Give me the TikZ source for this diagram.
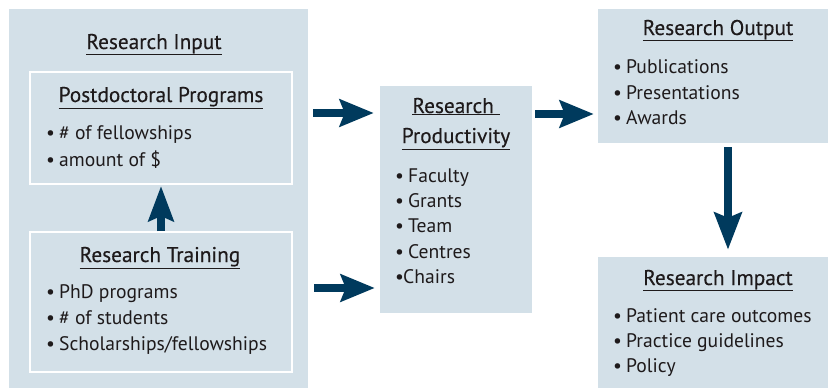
\documentclass[tikz,border=0pt]{standalone}
\usepackage{fontspec}
\setmainfont{PT Sans}
\newfontfamily\ttlfont[FakeBold=0.3]{PT Sans}
\usetikzlibrary{arrows.meta}
\definecolor{boxfill}{HTML}{D3E0E8}
\definecolor{navy}{HTML}{003A5D}
\definecolor{ink}{HTML}{1E1A1B}
\newcommand{\bul}[1]{\makebox[13pt][l]{\textbullet}#1}
\newcommand{\uln}[1]{\underline{#1}}
\tikzset{
  panel/.style={fill=boxfill, draw=none, inner sep=0pt},
  innerbox/.style={fill=boxfill, draw=white, line width=2pt, inner sep=0pt},
  ttl/.style={anchor=base, inner sep=0pt, text=ink, font=\ttlfont\fontsize{21.3}{24}\selectfont},
  itm/.style={anchor=base west, inner sep=0pt, text=ink, font=\fontsize{19.6}{22}\selectfont},
  bigarrow/.style={draw=navy, line width=8pt, -{Stealth[length=34pt,width=27pt,inset=5pt]}},
}
\begin{document}
\begin{tikzpicture}[x=1pt,y=-1pt]
\useasboundingbox (0,0) rectangle (828,388);
% boxes
\node[panel, minimum width=299pt, minimum height=380pt] (inp) at (158.5,199) {};
\node[innerbox, minimum width=262pt, minimum height=112pt] (post) at (161,128) {};
\node[innerbox, minimum width=262pt, minimum height=140pt] (train) at (161,302) {};
\node[panel, minimum width=152pt, minimum height=227pt] (prod) at (456,199.5) {};
\node[panel, minimum width=230pt, minimum height=134pt] (outp) at (713,76) {};
\node[panel, minimum width=230pt, minimum height=131pt] (imp) at (713,322.5) {};
% texts: input
\node[ttl] (t-in) at (154,49) {\uln{Research Input}};
\node[ttl] (t-post) at (161,102) {\uln{Postdoctoral Programs}};
\node[itm] (p1) at (46,139) {\bul{\# of fellowships}};
\node[itm] (p2) at (46,166) {\bul{amount of \$}};
\node[ttl] (t-train) at (160,262) {\uln{Research Training}};
\node[itm] (r1) at (46,298) {\bul{PhD programs}};
\node[itm] (r2) at (46,324) {\bul{\# of students}};
\node[itm] (r3) at (46,350) {\bul{Scholarships/fellowships}};
% productivity
\node[ttl] (t-prod1) at (456,113) {\uln{Research\ }};
\node[ttl] (t-prod2) at (456,143) {\uln{Productivity}};
\node[itm] (q1) at (395,182) {\bul{Faculty}};
\node[itm] (q2) at (395,207) {\bul{Grants}};
\node[itm] (q3) at (395,232) {\bul{Team}};
\node[itm] (q4) at (395,258) {\bul{Centres}};
\node[itm] (q5) at (395,283) {\makebox[8pt][l]{\textbullet}Chairs};
% output
\node[ttl] (t-out) at (718,35) {\uln{Research Output}};
\node[itm] (o1) at (613,73) {\bul{Publications}};
\node[itm] (o2) at (613,99) {\bul{Presentations}};
\node[itm] (o3) at (613,124) {\bul{Awards}};
% impact
\node[ttl] (t-imp) at (718,285) {\uln{Research Impact}};
\node[itm] (i1) at (613,322) {\bul{Patient care outcomes}};
\node[itm] (i2) at (613,347) {\bul{Practice guidelines}};
\node[itm] (i3) at (613,372) {\bul{Policy}};
% arrows
\coordinate (ya) at (0,113);
\coordinate (yb) at (0,288);
\coordinate (yc) at (0,114);
\coordinate (xd) at (728,0);
\draw[bigarrow, -{Stealth[length=35pt,width=25pt,inset=5pt]}, shorten >=1pt] (train.north) -- (post.south);
\draw[bigarrow, shorten <=5pt, shorten >=6pt] (inp.east |- ya) -- (prod.west |- ya);
\draw[bigarrow, shorten <=6pt, shorten >=5pt] (inp.east |- yb) -- (prod.west |- yb);
\draw[bigarrow, shorten <=3pt, shorten >=4pt] (prod.east |- yc) -- (outp.west |- yc);
\draw[bigarrow, -{Stealth[length=37pt,width=27pt,inset=5pt]}, shorten <=4pt, shorten >=7pt] (outp.south -| xd) -- (imp.north -| xd);
\end{tikzpicture}
\end{document}
